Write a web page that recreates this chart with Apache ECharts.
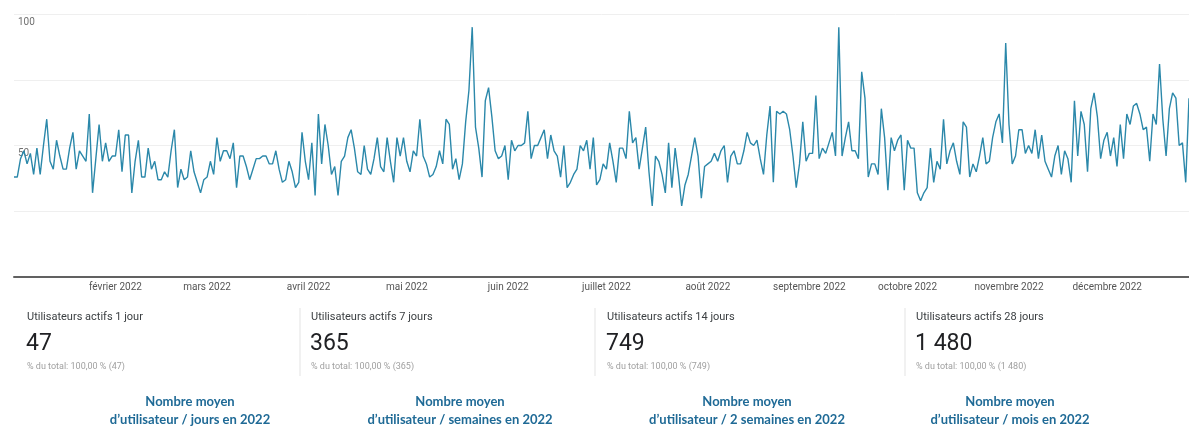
<!DOCTYPE html>
<html lang="fr">
<head>
<meta charset="utf-8">
<title>Utilisateurs actifs 2022</title>
<script src="https://cdn.jsdelivr.net/npm/echarts@6/dist/echarts.min.js"></script>
<style>
  html, body { margin: 0; padding: 0; background: #ffffff; }
  #chart { width: 1189px; height: 429px; }
</style>
</head>
<body>
<div id="chart"></div>
<script>
// Daily active users, from 1 January 2022 (one value per day)
const startDate = '2022-01-01';
const dailyUsers = [
  38, 38, 45, 48, 43, 47, 39, 49, 39, 50, 60, 44, 41, 52, 46, 41, 41, 49, 55, 41,
  48, 46, 44, 62, 32, 45, 58, 44, 51, 44, 46, 46, 56, 40, 54, 54, 32, 44, 52, 38,
  38, 49, 41, 44, 37, 37, 40, 38, 48, 56, 34, 41, 37, 38, 48, 40, 36, 32, 37, 38,
  44, 39, 53, 44, 48, 48, 45, 51, 34, 46, 46, 42, 37, 41, 45, 45, 46, 46, 43, 43,
  48, 41, 36, 37, 44, 40, 34, 36, 55, 44, 37, 51, 31, 62, 43, 58, 50, 39, 42, 31,
  44, 46, 53, 56, 49, 40, 39, 50, 41, 39, 45, 53, 42, 40, 53, 44, 36, 53, 46, 53,
  44, 40, 48, 46, 60, 46, 43, 38, 39, 42, 48, 43, 60, 58, 41, 45, 37, 43, 59, 71,
  95, 57, 49, 38, 67, 72, 61, 48, 45, 46, 50, 37, 52, 48, 50, 50, 51, 63, 45, 50,
  50, 53, 56, 45, 54, 48, 46, 38, 50, 34, 36, 39, 41, 50, 48, 52, 41, 53, 35, 37,
  43, 41, 51, 44, 36, 49, 49, 45, 63, 51, 53, 41, 49, 57, 40, 27, 46, 44, 39, 32,
  51, 34, 49, 39, 27, 35, 39, 46, 53, 46, 30, 42, 43, 44, 47, 44, 48, 50, 36, 46,
  48, 43, 43, 48, 55, 51, 50, 52, 45, 39, 54, 65, 36, 63, 62, 63, 62, 56, 46, 34,
  43, 59, 44, 47, 47, 69, 45, 49, 47, 51, 55, 46, 95, 46, 53, 59, 48, 48, 45, 78,
  68, 38, 43, 43, 39, 64, 53, 33, 53, 48, 52, 54, 33, 52, 49, 49, 32, 29, 32, 34,
  49, 36, 44, 41, 60, 43, 48, 51, 44, 39, 59, 57, 38, 43, 40, 46, 53, 43, 44, 53,
  59, 62, 51, 89, 58, 43, 46, 56, 56, 47, 50, 47, 56, 45, 54, 44, 41, 38, 46, 50,
  39, 48, 45, 36, 67, 46, 63, 58, 40, 64, 70, 61, 45, 52, 55, 46, 53, 42, 58, 45,
  62, 58, 65, 66, 62, 56, 57, 44, 62, 58, 81, 60, 46, 64, 70, 68, 50, 51, 36, 68
];

// Y axis: ticks every 25, only 50 and 100 are labelled
const yTickStep = 25;
const yMax = 100;
const yLabelled = [50, 100];

// Month names for the x axis labels
const monthNames = ['janvier', 'février', 'mars', 'avril', 'mai', 'juin', 'juillet',
  'août', 'septembre', 'octobre', 'novembre', 'décembre'];

// Summary cards below the chart
const cardTitles = ['Utilisateurs actifs 1 jour', 'Utilisateurs actifs 7 jours',
  'Utilisateurs actifs 14 jours', 'Utilisateurs actifs 28 jours'];
const cardValues = ['47', '365', '749', '1 480'];
const cardShares = ['% du total: 100,00 % (47)', '% du total: 100,00 % (365)',
  '% du total: 100,00 % (749)', '% du total: 100,00 % (1 480)'];
const captionLine1 = ['Nombre moyen', 'Nombre moyen', 'Nombre moyen', 'Nombre moyen'];
const captionLine2 = ['d\u2019utilisateur / jours en 2022', 'd\u2019utilisateur / semaines en 2022',
  'd\u2019utilisateur / 2 semaines en 2022', 'd\u2019utilisateur / mois en 2022'];

// One category per day
const dayDates = [];
{
  const t0 = Date.parse(startDate + 'T00:00:00Z');
  for (let i = 0; i < dailyUsers.length; i++) {
    const d = new Date(t0 + i * 86400000);
    dayDates.push(d.toISOString().slice(0, 10));
  }
}
function isMonthStart(dateStr) {
  return dateStr.slice(8, 10) === '01' && dateStr.slice(5, 7) !== '01';
}

// Layout of the summary cards
const cardX = [27, 311, 607, 916];
const separatorX = [300, 595, 905];
const captionCenterX = [190, 460, 747, 1010];

const graphics = [];
cardTitles.forEach((t, i) => {
  graphics.push({
    type: 'text', left: cardX[i], top: 312,
    style: { text: t, font: '11px Roboto', fill: '#3c4043' }
  });
  graphics.push({
    type: 'text', left: cardX[i] - 1, top: 333,
    style: { text: cardValues[i], font: '23px Roboto', fill: '#202124' }
  });
  graphics.push({
    type: 'text', left: cardX[i], top: 362,
    style: { text: cardShares[i], font: '9px Roboto', fill: '#a0a0a0' }
  });
  graphics.push({
    type: 'text', x: captionCenterX[i], y: 395,
    style: { text: captionLine1[i], font: 'bold 13px Lato', fill: '#1f6a96', align: 'center' }
  });
  graphics.push({
    type: 'text', x: captionCenterX[i], y: 413,
    style: { text: captionLine2[i], font: 'bold 13px Lato', fill: '#1f6a96', align: 'center' }
  });
});
separatorX.forEach(x => {
  graphics.push({
    type: 'line',
    shape: { x1: x, y1: 308, x2: x, y2: 376 },
    style: { stroke: '#e3e3e3', lineWidth: 1 }
  });
});

const chart = echarts.init(document.getElementById('chart'), null, { renderer: 'canvas' });
chart.setOption({
  animation: false,
  backgroundColor: '#ffffff',
  grid: { left: 14, right: 0, top: 14, bottom: 152, containLabel: false },
  xAxis: {
    type: 'category',
    data: dayDates,
    boundaryGap: false,
    axisLine: { show: true, lineStyle: { color: '#616161', width: 2 } },
    axisTick: { show: false },
    splitLine: { show: false },
    axisLabel: {
      interval: (idx, val) => isMonthStart(val),
      formatter: val => monthNames[parseInt(val.slice(5, 7), 10) - 1] + ' ' + val.slice(0, 4),
      color: '#555555',
      fontFamily: 'Roboto',
      fontSize: 10,
      margin: 5
    }
  },
  yAxis: {
    type: 'value',
    min: 0,
    max: yMax,
    interval: yTickStep,
    axisLine: { show: false },
    axisTick: { show: false },
    splitLine: { show: true, lineStyle: { color: '#efefef', width: 1 } },
    axisLabel: {
      inside: true,
      margin: 4,
      verticalAlign: 'top',
      padding: [3, 0, 0, 0],
      color: '#707070',
      fontFamily: 'Roboto',
      fontSize: 10,
      formatter: v => (yLabelled.includes(v) ? String(v) : '')
    }
  },
  series: [{
    type: 'line',
    data: dailyUsers,
    symbol: 'none',
    smooth: false,
    lineStyle: { color: '#2b88aa', width: 1.4 },
    z: 3
  }],
  graphic: graphics
});
</script>
</body>
</html>
